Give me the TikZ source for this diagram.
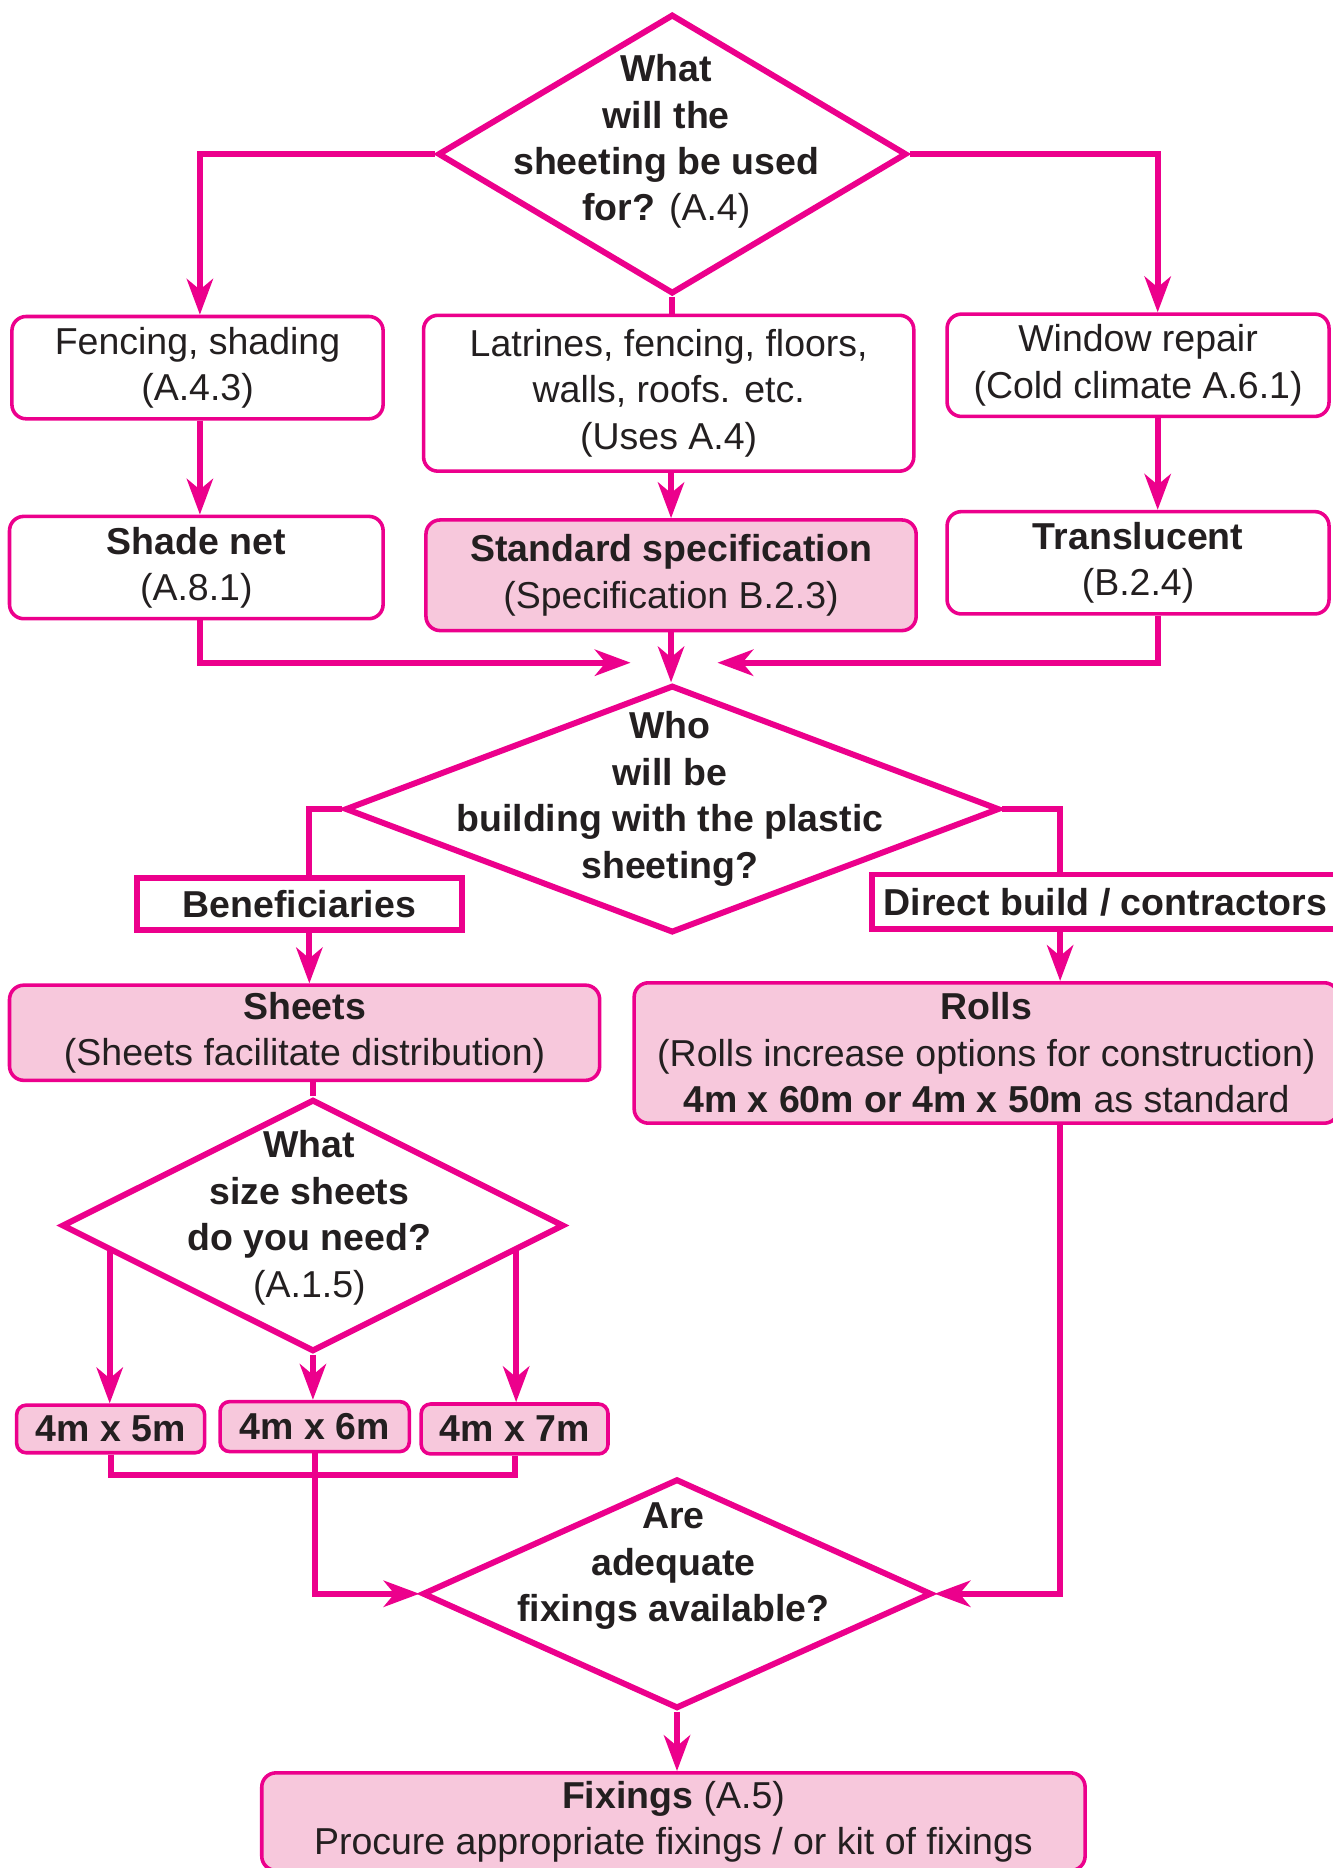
\documentclass[tikz,border=0pt]{standalone}
\usepackage{fontspec}
\setmainfont{Liberation Sans}
\usetikzlibrary{shapes.geometric,arrows.meta,calc}

\definecolor{dialinecolor}{rgb}{0.925,0.000,0.549}
\definecolor{diafillcolor}{rgb}{0.969,0.784,0.863}
\definecolor{diatextcolor}{rgb}{0.137,0.122,0.125}

\newlength{\du}
\setlength{\du}{1pt}

\tikzset{
  ln/.style={draw=dialinecolor,line width=5\du},
  arr/.style={ln,-{Stealth[length=30pt,width=22pt,inset=9pt]}},
  txt/.style={text=diatextcolor,align=center,font=\fontsize{31.5}{39}\selectfont,inner sep=0pt},
  box/.style={txt,draw=dialinecolor,line width=3\du,rounded corners=12\du,fill=white},
  pinkbox/.style={box,fill=diafillcolor},
  heavybox/.style={txt,draw=dialinecolor,line width=5\du,fill=white},
  dia/.style={diamond,draw=dialinecolor,line width=5\du,fill=white,inner sep=0pt},
}

\begin{document}
\begin{tikzpicture}[x=\du,y=-\du]
\useasboundingbox (0,0) rectangle (1120,1570);

% what will the sheeting be used for
\node[dia,minimum width=394\du,minimum height=235\du] (qUse) at (565,129.5) {};
\node[txt] (qUseText) at (560,119) {\textbf{What}\\\textbf{will the}\\\textbf{sheeting be used}\\\textbf{for?} (A.4)};

\node[box,minimum width=312\du,minimum height=86\du] (fence) at (166,309) {Fencing, shading\\(A.4.3)};
\node[box,minimum width=412\du,minimum height=131\du] (latr) at (562,330.5) {Latrines, fencing, floors,\\walls, roofs. etc.\\(Uses A.4)};
\node[box,minimum width=321\du,minimum height=86\du] (window) at (956.5,307) {Window repair\\(Cold climate A.6.1)};

\node[box,minimum width=314\du,minimum height=86\du] (shade) at (165,477) {\textbf{Shade net}\\(A.8.1)};
\node[pinkbox,minimum width=412\du,minimum height=93\du] (std) at (564,483.5) {\textbf{Standard specification}\\(Specification B.2.3)};
\node[box,minimum width=321\du,minimum height=86\du] (transl) at (956.5,473) {\textbf{Translucent}\\(B.2.4)};

\coordinate (colL) at (168,0);
\coordinate (colR) at (973,0);
\coordinate (mergeL) at (530,557);
\coordinate (mergeR) at (603,557);

\draw[arr] (qUse.west) -| (colL |- fence.north);
\draw[arr] (qUse.east) -| (colR |- window.north);
\draw[ln] (qUse.south) -- (qUse.south |- latr.north);
\draw[arr] (colL |- fence.south) -- (colL |- shade.north);
\draw[arr] (std.north |- latr.south) -- (std.north);
\draw[arr] (colR |- window.south) -- (colR |- transl.north);

% who will be building
\node[dia,minimum width=550\du,minimum height=208\du] (qWho) at (565,680) {};
\node[txt] (qWhoText) at (563,671.5) {\textbf{Who}\\\textbf{will be}\\\textbf{building with the plastic}\\\textbf{sheeting?}};

\draw[arr] (colL |- shade.south) |- (mergeL);
\draw[arr] (colR |- transl.south) |- (mergeR);
\draw[arr] (std.south) -- (std.south |- qWho.north);

\node[heavybox,minimum width=273\du,minimum height=44\du] (benef) at (251.5,760) {\textbf{Beneficiaries}};
\node[heavybox,minimum width=392\du,minimum height=46\du] (direct) at (929,758) {\textbf{Direct build / contractors}};

\coordinate (colB) at (260,0);
\coordinate (colD) at (891,0);

\draw[ln] (qWho.west) -| (colB |- benef.north);
\draw[ln] (qWho.east) -| (colD |- direct.north);

\node[pinkbox,minimum width=496\du,minimum height=80\du] (sheets) at (256,868) {\textbf{Sheets}\\(Sheets facilitate distribution)};
\node[pinkbox,minimum width=592\du,minimum height=118\du] (rolls) at (829,885) {\textbf{Rolls}\\(Rolls increase options for construction)\\\textbf{4m x 60m or 4m x 50m} as standard};

\draw[arr] (colB |- benef.south) -- (colB |- sheets.north);
\draw[arr] (colD |- direct.south) -- (colD |- rolls.north);

% what size sheets
\node[dia,minimum width=422\du,minimum height=212\du] (qSize) at (263,1030) {};
\node[txt] (qSizeText) at (260,1023.5) {\textbf{What}\\\textbf{size sheets}\\\textbf{do you need?}\\(A.1.5)};

\draw[ln] (qSize.north |- sheets.south) -- (qSize.north);

\node[pinkbox,rounded corners=8\du,minimum width=158\du,minimum height=40\du] (s5) at (93,1201) {\textbf{4m x 5m}};
\node[pinkbox,rounded corners=8\du,minimum width=159\du,minimum height=42\du] (s6) at (264.5,1199) {\textbf{4m x 6m}};
\node[pinkbox,rounded corners=8\du,minimum width=157\du,minimum height=42\du] (s7) at (432.5,1201) {\textbf{4m x 7m}};

\coordinate (sizeL) at ($(qSize.west)!0.2!(qSize.south)$);
\coordinate (sizeR) at ($(qSize.east)!0.2!(qSize.south)$);
\draw[arr] (sizeL) -- (sizeL |- s5.north);
\draw[arr] (qSize.south) -- (qSize.south |- s6.north);
\draw[arr] (sizeR) -- (sizeR |- s7.north);

% are fixings available
\node[dia,minimum width=428\du,minimum height=193\du] (qFix) at (569,1339.5) {};
\node[txt] (qFixText) at (566,1316.5) {\textbf{Are}\\\textbf{adequate}\\\textbf{fixings available?}};

\coordinate (joinS) at (264.5,1240);
\draw[ln] (s5.south) |- (joinS) -| (s7.south);
\draw[arr] (s6.south) |- (qFix.west);
\draw[arr] (colD |- rolls.south) |- (qFix.east);

\node[pinkbox,minimum width=692\du,minimum height=82\du] (fix) at (566,1531) {\textbf{Fixings} (A.5)\\Procure appropriate fixings / or kit of fixings};
\draw[arr] (qFix.south) -- (qFix.south |- fix.north);
\end{tikzpicture}
\end{document}
